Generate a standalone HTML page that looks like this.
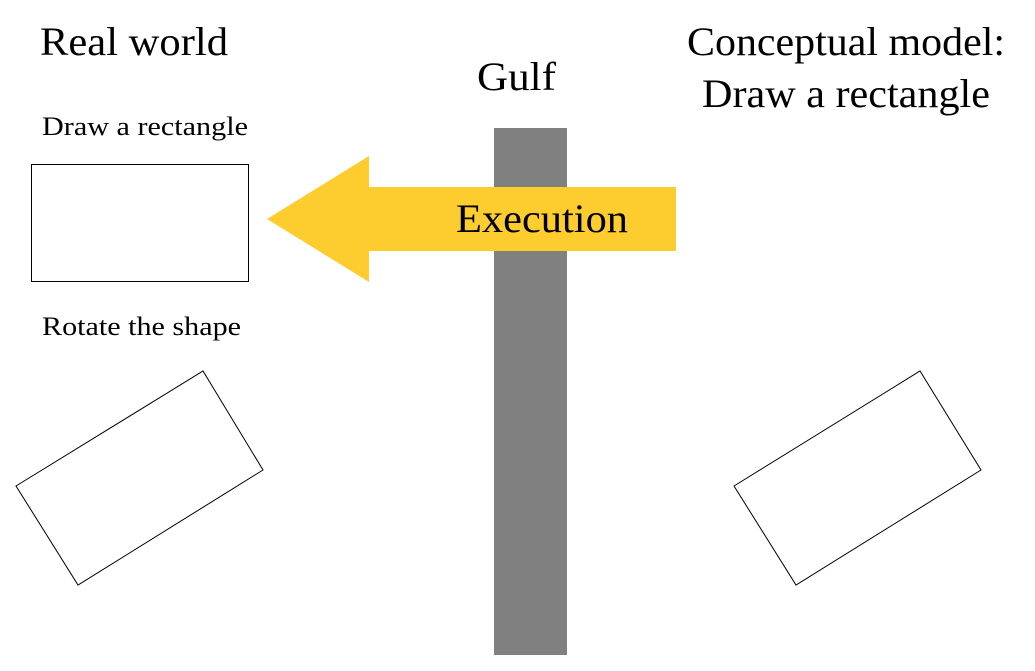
<!DOCTYPE html>
<html><head><style>
html,body{margin:0;padding:0;background:#fff;}
svg{display:block;}
text{font-family:"Liberation Serif",serif;fill:#000;}
</style></head><body>
<svg width="1035" height="671" viewBox="0 0 1035 671" xmlns="http://www.w3.org/2000/svg">
<rect x="494" y="128" width="73" height="527" fill="#808080"/>
<polygon points="267,219 369,156 369,187 676,187 676,251 369,251 369,282" fill="#FDCC2E"/>
<text x="40" y="55" font-size="40" textLength="188" lengthAdjust="spacingAndGlyphs">Real world</text>
<text x="477" y="90" font-size="40" textLength="79" lengthAdjust="spacingAndGlyphs">Gulf</text>
<text x="687" y="55" font-size="40" textLength="318" lengthAdjust="spacingAndGlyphs">Conceptual model:</text>
<text x="702" y="107" font-size="40" textLength="288" lengthAdjust="spacingAndGlyphs">Draw a rectangle</text>
<text x="42" y="135" font-size="26" textLength="206" lengthAdjust="spacingAndGlyphs">Draw a rectangle</text>
<text x="42" y="335" font-size="26" textLength="199" lengthAdjust="spacingAndGlyphs">Rotate the shape</text>
<rect x="31.5" y="164.5" width="217" height="117" fill="none" stroke="#000" stroke-width="1"/>
<polygon points="16,486 203,371 263,470 78,585" fill="none" stroke="#000" stroke-width="1"/>
<polygon points="734,486 920,371 981,470 796,585" fill="none" stroke="#000" stroke-width="1"/>
<text x="456" y="232" font-size="40" textLength="172" lengthAdjust="spacingAndGlyphs">Execution</text>
</svg>
</body></html>
